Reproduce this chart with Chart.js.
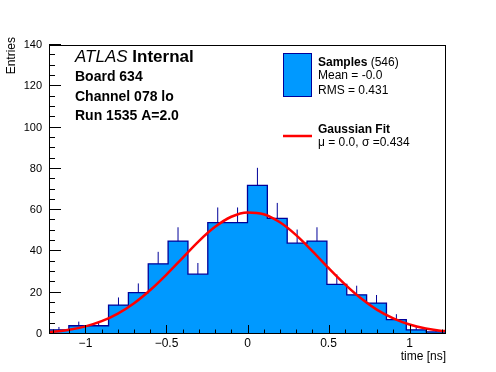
<!DOCTYPE html>
<html>
<head>
<meta charset="utf-8">
<script src="https://cdn.jsdelivr.net/npm/chart.js@4"></script>
<style>
html, body { margin: 0; padding: 0; background: #fff; }
#timeChart { display: block; }
</style>
</head>
<body>
<canvas id="timeChart" width="496" height="372"></canvas>
<script>
// -----------------------------
// DATA
// -----------------------------
const binEdges = [-1.225, -1.1025, -0.98, -0.8575, -0.735, -0.6125, -0.49, -0.3675, -0.245, -0.1225,
                  0, 0.1225, 0.245, 0.3675, 0.49, 0.6125, 0.735, 0.8575, 0.98, 1.1025, 1.225];
const counts = [2, 4, 4, 14, 20, 34, 45, 29, 54, 54, 72, 56, 44, 45, 24, 19, 15, 7, 2, 1];
const countErrors = [1.4, 2.0, 2.0, 3.7, 4.5, 5.8, 6.7, 5.4, 7.3, 7.3, 8.5, 7.5, 6.6, 6.7, 4.9, 4.4, 3.9, 2.6, 1.4, 1.0];

const fitX = [-1.225, -1.2, -1.1, -1.0, -0.9, -0.8, -0.7, -0.6, -0.5, -0.4, -0.3, -0.2, -0.1,
              0, 0.1, 0.2, 0.3, 0.4, 0.5, 0.6, 0.7, 0.8, 0.9, 1.0, 1.1, 1.2, 1.225];
const fitY = [1.0, 1.1, 2.1, 3.7, 6.2, 9.9, 14.9, 21.3, 28.8, 36.9, 45.0, 51.9, 56.8,
              58.9, 58.0, 54.1, 47.9, 40.2, 32.0, 24.2, 17.3, 11.7, 7.6, 4.6, 2.7, 1.5, 1.35];

const xTicks = [-1, -0.5, 0, 0.5, 1];
const yTicks = [0, 20, 40, 60, 80, 100, 120, 140];
const xMinorStep = 0.1;
const yMinorStep = 5;

const labelLines = ["Board 634", "Channel 078 lo", "Run 1535 A=2.0"];

const FILL = "#0099ff";
const LINE = "#000099";
const FONT = '"Liberation Sans", Arial, Helvetica, sans-serif';

Chart.defaults.font.family = FONT;
Chart.defaults.color = "#000";

// -----------------------------
// HELPERS
// -----------------------------
function formatTick(v) {
    if (v === 0) return "0";
    return v < 0 ? "\u2212" + Math.abs(v) : String(v);
}

// -----------------------------
// FRAME + INWARD TICKS
// -----------------------------
const frameTicks = {
    id: "frameTicks",
    afterDatasetsDraw(chart) {
        const { ctx, chartArea: a, scales: { x, y } } = chart;
        ctx.save();
        ctx.strokeStyle = "#000";
        ctx.lineWidth = 1;
        ctx.beginPath();

        for (let v = y.min; v <= y.max + 1e-9; v += yMinorStep) {
            const py = Math.round(y.getPixelForValue(v)) - 0.5;
            const len = yTicks.includes(v) ? 12 : 6;
            ctx.moveTo(a.left, py);
            ctx.lineTo(a.left + len, py);
        }

        const k0 = Math.ceil(x.min / xMinorStep - 1e-9);
        const k1 = Math.floor(x.max / xMinorStep + 1e-9);
        for (let k = k0; k <= k1; k++) {
            const px = Math.round(x.getPixelForValue(k * xMinorStep)) + 0.5;
            const len = k % 5 === 0 ? 9 : 4.5;
            ctx.moveTo(px, a.bottom);
            ctx.lineTo(px, a.bottom - len);
        }
        ctx.stroke();

        ctx.strokeRect(a.left + 0.5, a.top + 0.5, a.right - a.left - 1, a.bottom - a.top - 1);
        ctx.restore();
    }
};

// -----------------------------
// LEGEND + LABELS
// -----------------------------
const annotations = {
    id: "annotations",
    afterDraw(chart) {
        const ctx = chart.ctx;
        ctx.save();
        ctx.fillStyle = "#000";
        ctx.textBaseline = "alphabetic";
        ctx.textAlign = "left";

        // ATLAS label
        ctx.font = "italic 17px " + FONT;
        ctx.fillText("ATLAS", 75, 62);
        const w = ctx.measureText("ATLAS ").width;
        ctx.font = "bold 17px " + FONT;
        ctx.fillText("Internal", 75 + w, 62);

        ctx.font = "bold 14px " + FONT;
        labelLines.forEach((t, i) => ctx.fillText(t, 75, 81 + i * 19.5));

        // legend: samples
        ctx.fillStyle = FILL;
        ctx.fillRect(283.5, 53.5, 28, 43);
        ctx.strokeStyle = LINE;
        ctx.lineWidth = 1;
        ctx.strokeRect(283.5, 53.5, 28, 43);

        ctx.fillStyle = "#000";
        ctx.font = "bold 12px " + FONT;
        ctx.fillText("Samples", 318, 65.5);
        const ws = ctx.measureText("Samples").width;
        ctx.font = "12px " + FONT;
        ctx.fillText(" (546)", 318 + ws, 65.5);
        ctx.fillText("Mean = -0.0", 318, 79);
        ctx.fillText("RMS = 0.431", 318, 93.5);

        // legend: fit
        ctx.strokeStyle = "#ff0000";
        ctx.lineWidth = 2.5;
        ctx.beginPath();
        ctx.moveTo(283, 136);
        ctx.lineTo(312, 136);
        ctx.stroke();

        ctx.font = "bold 12px " + FONT;
        ctx.fillText("Gaussian Fit", 318, 133);
        ctx.font = "12px " + FONT;
        ctx.fillText("\u03bc = 0.0, \u03c3 =0.434", 318, 146);

        // y axis title, end aligned to the top of the axis
        ctx.translate(12, 37);
        ctx.rotate(-Math.PI / 2);
        ctx.textAlign = "right";
        ctx.textBaseline = "middle";
        ctx.font = "12px " + FONT;
        ctx.fillText("Entries", 0, 0);

        ctx.restore();
    }
};

// -----------------------------
// DATASETS
// -----------------------------
const histPoints = binEdges.map((e, i) => ({ x: e, y: counts[Math.min(i, counts.length - 1)] }));

const errorPoints = [];
counts.forEach((n, i) => {
    const c = (binEdges[i] + binEdges[i + 1]) / 2;
    errorPoints.push({ x: c, y: n }, { x: c, y: n + countErrors[i] }, { x: c, y: null });
});

const fitPoints = fitX.map((v, i) => ({ x: v, y: fitY[i] }));

// -----------------------------
// CHART
// -----------------------------
new Chart(document.getElementById("timeChart"), {
    type: "line",
    data: {
        datasets: [
            {
                data: fitPoints,
                borderColor: "#ff0000",
                borderWidth: 2.5,
                pointRadius: 0,
                cubicInterpolationMode: "monotone",
                fill: false,
                order: 0
            },
            {
                data: errorPoints,
                borderColor: LINE,
                borderWidth: 1,
                pointRadius: 0,
                spanGaps: false,
                fill: false,
                order: 1
            },
            {
                data: histPoints,
                stepped: true,
                borderColor: LINE,
                borderWidth: 1.3,
                backgroundColor: FILL,
                pointRadius: 0,
                fill: "origin",
                order: 2
            }
        ]
    },
    options: {
        responsive: false,
        animation: false,
        events: [],
        layout: { padding: { left: 0, right: 50, top: 45, bottom: 0 } },
        plugins: {
            legend: { display: false },
            tooltip: { enabled: false }
        },
        scales: {
            x: {
                type: "linear",
                min: binEdges[0],
                max: binEdges[binEdges.length - 1],
                afterBuildTicks: s => { s.ticks = xTicks.map(v => ({ value: v })); },
                afterFit: s => { s.height = 38; },
                grid: { display: false, drawTicks: false },
                border: { display: false },
                ticks: {
                    autoSkip: false,
                    maxRotation: 0,
                    padding: 2,
                    font: { size: 12 },
                    callback: v => formatTick(v)
                },
                title: {
                    display: true,
                    text: "time [ns]",
                    align: "end",
                    font: { size: 12 },
                    padding: { top: 0, bottom: 8 }
                }
            },
            y: {
                type: "linear",
                min: yTicks[0],
                max: yTicks[yTicks.length - 1],
                afterBuildTicks: s => { s.ticks = yTicks.map(v => ({ value: v })); },
                afterFit: s => { s.width = 49; },
                grid: { display: false, drawTicks: false },
                border: { display: false },
                ticks: {
                    autoSkip: false,
                    padding: 7,
                    font: { size: 11 },
                    callback: v => formatTick(v)
                }
            }
        }
    },
    plugins: [frameTicks, annotations]
});
</script>
</body>
</html>
